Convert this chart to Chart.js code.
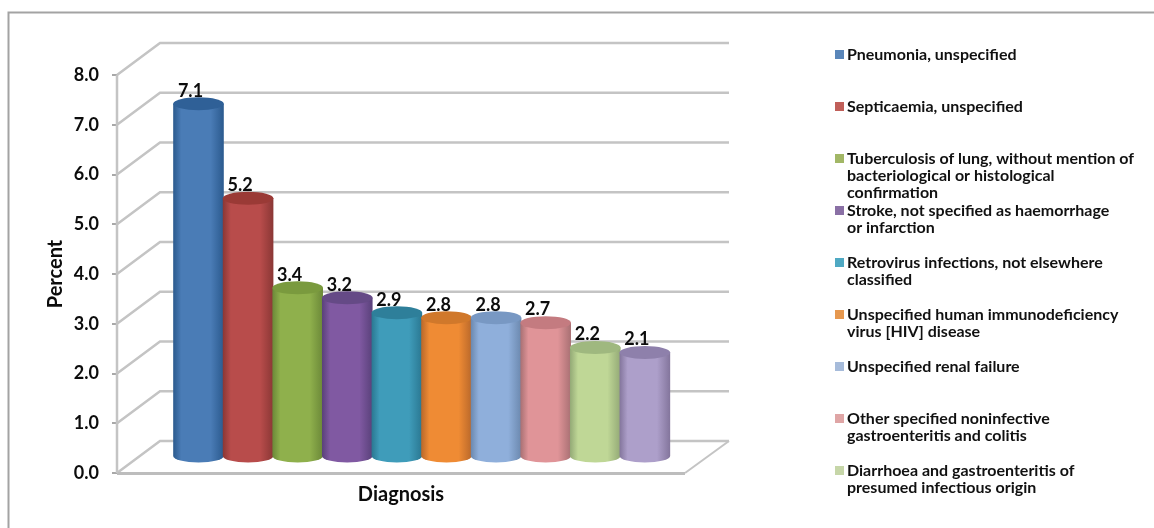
<!DOCTYPE html>
<html>
<head>
<meta charset="utf-8">
<title>Diagnosis chart</title>
<script src="https://cdn.jsdelivr.net/npm/chart.js@4"></script>
<style>
  html, body { margin: 0; padding: 0; background: #fff; }
  canvas { display: block; }
</style>
</head>
<body>
<canvas id="diagnosisChart" width="1154" height="528"></canvas>
<script>
// percent of cases per diagnosis, left to right
var percentValues = [7.1, 5.2, 3.4, 3.2, 2.9, 2.8, 2.8, 2.7, 2.2, 2.1];
var barPositions = [1, 2, 3, 4, 5, 6, 7, 8, 9, 10];

var legendLabels = [
  ["Pneumonia, unspecified"],
  ["Septicaemia, unspecified"],
  ["Tuberculosis of lung, without mention of", "bacteriological or histological", "confirmation"],
  ["Stroke, not specified as haemorrhage", "or infarction"],
  ["Retrovirus infections, not elsewhere", "classified"],
  ["Unspecified human immunodeficiency", "virus [HIV] disease"],
  ["Unspecified renal failure"],
  ["Other specified noninfective", "gastroenteritis and colitis"],
  ["Diarrhoea and gastroenteritis of", "presumed infectious origin"]
];

// [edge, body, top cap]
var barColors = [
  ["#2b5a8e", "#4a7cb6", "#2f6097"],
  ["#8a3735", "#b84c4b", "#9a3a36"],
  ["#6b8838", "#8fb04c", "#7a9a3e"],
  ["#59417a", "#8059a2", "#654a86"],
  ["#2a7791", "#3f9cba", "#2e7f9a"],
  ["#b9682a", "#ef8b34", "#d0782b"],
  ["#6b88ae", "#8fafdb", "#7898c3"],
  ["#a87073", "#e09498", "#c47b80"],
  ["#93a976", "#bfd796", "#9fb87f"],
  ["#83759c", "#ad9fca", "#8e80ab"]
];
var legendColors = ["#5a86b9", "#c05f59", "#a2b766", "#8a70a5", "#4fa9c3", "#e6984f", "#a6bbda", "#dfa5a5", "#c6d6a8"];

var FONT = "Lato, 'Open Sans', sans-serif";
var DEPTH_X = 43, DEPTH_Y = 32;   // how far the back wall sits behind the axis
var GRID = "#c4c4c4";

function line(ctx, pts, color, width) {
  ctx.beginPath();
  pts.forEach(function (p, i) { i ? ctx.lineTo(p[0], p[1]) : ctx.moveTo(p[0], p[1]); });
  ctx.strokeStyle = color;
  ctx.lineWidth = width;
  ctx.stroke();
}

// walls, floor and outer frame
var wallPlugin = {
  id: "wall",
  beforeDatasetsDraw: function (chart) {
    var ctx = chart.ctx, y = chart.scales.y, left = chart.chartArea.left, right = chart.chartArea.right;
    ctx.save();
    line(ctx, [[8.5, 528], [8.5, 12.5], [1154, 12.5]], "#a3a3a3", 2);
    y.ticks.forEach(function (t) {
      var py = y.getPixelForValue(t.value);
      line(ctx, [[left, py], [left + DEPTH_X, py - DEPTH_Y], [right + DEPTH_X + 1, py - DEPTH_Y]], GRID, 2.5);
    });
    var y0 = y.getPixelForValue(0);
    line(ctx, [[right + DEPTH_X + 1, y0 - DEPTH_Y], [right, y0]], GRID, 2);
    line(ctx, [[left, y0 + 0.5], [right, y0 + 0.5]], "#bdbdbd", 3);
    line(ctx, [[left, y0], [left, y.getPixelForValue(8)]], GRID, 2.5);
    ctx.restore();
  },
  // cylinders instead of flat bars, standing half way into the floor
  beforeDatasetDraw: function (chart, args) {
    var ctx = chart.ctx, meta = chart.getDatasetMeta(args.index);
    var shift = DEPTH_Y / 2, ry = 6.5;
    ctx.save();
    meta.data.forEach(function (bar, i) {
      var c = barColors[i];
      var rx = bar.width / 2 + 0.5, top = bar.y - shift, bottom = bar.base - shift;
      var g = ctx.createLinearGradient(bar.x - rx, 0, bar.x + rx, 0);
      g.addColorStop(0, c[0]);
      g.addColorStop(0.16, c[1]);
      g.addColorStop(0.74, c[1]);
      g.addColorStop(1, c[0]);
      ctx.beginPath();
      ctx.moveTo(bar.x - rx, top);
      ctx.lineTo(bar.x - rx, bottom);
      ctx.ellipse(bar.x, bottom, rx, ry, 0, Math.PI, 0, true);
      ctx.lineTo(bar.x + rx, top);
      ctx.closePath();
      ctx.fillStyle = g;
      ctx.fill();
      ctx.beginPath();
      ctx.ellipse(bar.x, top, rx, ry, 0, 0, Math.PI * 2);
      ctx.fillStyle = c[2];
      ctx.fill();
    });
    ctx.restore();
    return false;
  },
  afterDatasetsDraw: function (chart) {
    var ctx = chart.ctx, meta = chart.getDatasetMeta(0);
    ctx.save();
    // value labels
    ctx.font = "bold 18px " + FONT;
    ctx.fillStyle = "#0c0c0c";
    ctx.textAlign = "center";
    ctx.textBaseline = "middle";
    meta.data.forEach(function (bar, i) {
      ctx.fillText(percentValues[i].toFixed(1), bar.x - 8, bar.y - DEPTH_Y / 2 - 13);
    });
    // legend, one entry every 52px
    ctx.font = "bold 16px " + FONT;
    ctx.textAlign = "left";
    legendLabels.forEach(function (lines, i) {
      var ly = 55 + i * 52;
      ctx.fillStyle = legendColors[i];
      ctx.fillRect(835, ly - 5, 9, 9);
      ctx.fillStyle = "#111";
      lines.forEach(function (txt, j) { ctx.fillText(txt, 847, ly + j * 17); });
    });
    ctx.restore();
  }
};

new Chart(document.getElementById("diagnosisChart"), {
  type: "bar",
  data: {
    datasets: [{
      data: barPositions.map(function (x, i) { return { x: x, y: percentValues[i] }; }),
      barPercentage: 1,
      categoryPercentage: 1
    }]
  },
  options: {
    responsive: false,
    animation: false,
    layout: { padding: { top: 75, right: 469 } },
    plugins: { legend: { display: false }, tooltip: { enabled: false } },
    scales: {
      x: {
        type: "linear",
        offset: false,
        min: -0.643,
        max: 10.809,
        afterFit: function (s) { s.height = 55; },
        ticks: { display: false },
        grid: { display: false },
        border: { display: false },
        title: {
          display: true,
          text: "Diagnosis",
          color: "#0c0c0c",
          font: { family: FONT, size: 20, weight: "bold" },
          padding: { top: 0, bottom: 21 }
        }
      },
      y: {
        min: 0,
        max: 8,
        afterFit: function (s) { s.width = 117; },
        ticks: {
          stepSize: 1,
          padding: 13,
          color: "#0c0c0c",
          font: { family: FONT, size: 18, weight: "bold" },
          callback: function (v) { return v.toFixed(1); }
        },
        grid: { drawOnChartArea: false, drawTicks: true, tickLength: 5, color: "#a8a8a8", lineWidth: 2 },
        border: { display: false },
        title: {
          display: true,
          text: "Percent",
          color: "#0c0c0c",
          font: { family: FONT, size: 20, weight: "bold" },
          padding: { top: 44, bottom: 0 }
        }
      }
    }
  },
  plugins: [wallPlugin]
});
</script>
</body>
</html>
